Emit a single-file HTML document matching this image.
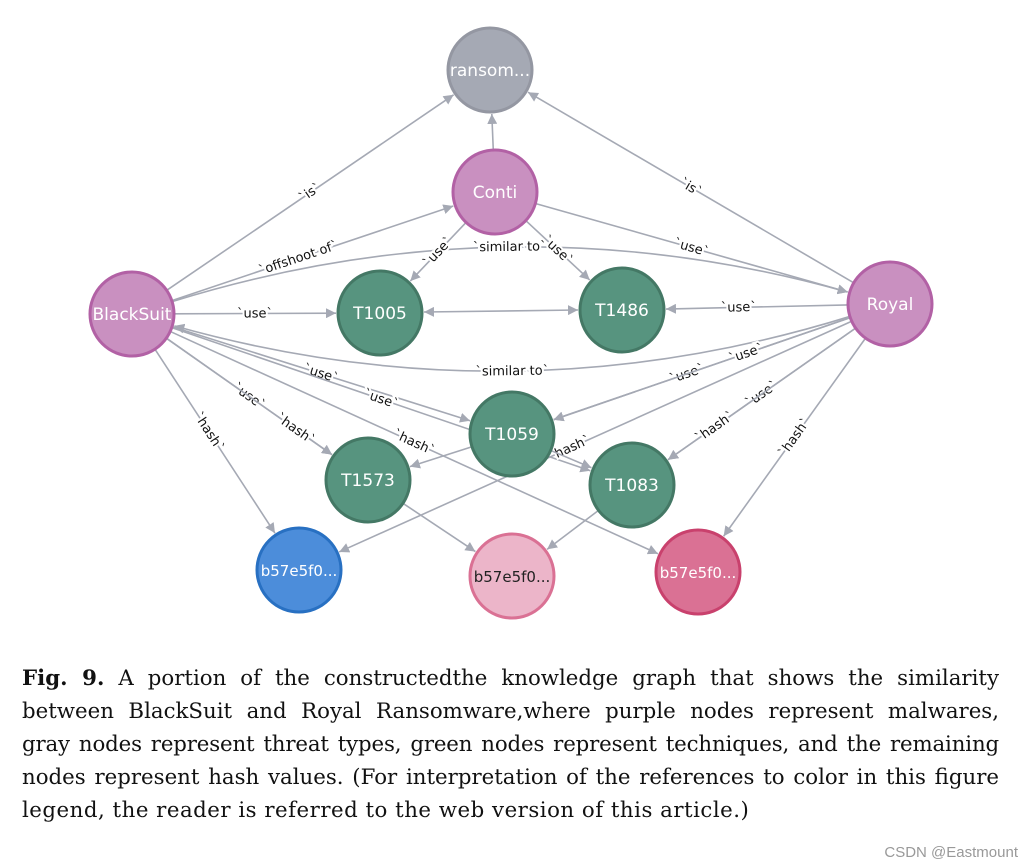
<!DOCTYPE html>
<html><head><meta charset="utf-8">
<style>
body{margin:0;background:#fff;width:1026px;height:867px;overflow:hidden;}
#g{position:absolute;left:0;top:0;}
.cap{position:absolute;left:22px;top:662px;width:977px;font-family:"DejaVu Serif","Liberation Serif",serif;font-size:21.3px;line-height:33px;color:#111;}
.cap div{text-align:justify;text-align-last:justify;white-space:nowrap;}
.cap div.t{letter-spacing:-0.15px;}
.cap div.l{text-align-last:left;letter-spacing:0.5px;}
.wm{position:absolute;right:8px;bottom:6px;font-family:"Liberation Sans",sans-serif;font-size:15px;color:#999;}
</style></head><body>
<svg id="g" width="1026" height="650" xmlns="http://www.w3.org/2000/svg">
<defs><marker id="ar" viewBox="0 0 10 10" refX="10" refY="5" markerWidth="10" markerHeight="10" orient="auto" markerUnits="userSpaceOnUse"><path d="M0,0 L10,5 L0,10 z" fill="#a5a9b4"/></marker>
<marker id="as" viewBox="0 0 10 10" refX="0" refY="5" markerWidth="10" markerHeight="10" orient="auto" markerUnits="userSpaceOnUse"><path d="M10,0 L0,5 L10,10 z" fill="#a5a9b4"/></marker></defs>
<g id="E"></g><g id="N"></g>
</svg>
<div class="cap">
<div><b>Fig. 9.</b> A portion of the constructedthe knowledge graph that shows the similarity</div>
<div>between BlackSuit and Royal Ransomware,where purple nodes represent malwares,</div>
<div class="t">gray nodes represent threat types, green nodes represent techniques, and the remaining</div>
<div>nodes represent hash values. (For interpretation of the references to color in this figure</div>
<div class="l">legend, the reader is referred to the web version of this article.)</div>
</div>
<div class="wm">CSDN @Eastmount</div>
<script>
var R=42;
var n={ransom:[490,70,"ransom...","#a5a9b4","#9497a2","#fff"],
Conti:[495,192,"Conti","#c990c0","#b261a5","#fff"],
BlackSuit:[132,314,"BlackSuit","#c990c0","#b261a5","#fff"],
Royal:[890,304,"Royal","#c990c0","#b261a5","#fff"],
T1005:[380,313,"T1005","#57947f","#447865","#fff"],
T1486:[622,310,"T1486","#57947f","#447865","#fff"],
T1059:[512,434,"T1059","#57947f","#447865","#fff"],
T1573:[368,480,"T1573","#57947f","#447865","#fff"],
T1083:[632,485,"T1083","#57947f","#447865","#fff"],
b1:[299,570,"b57e5f0...","#4c8dda","#2870c2","#fff"],
b2:[512,576,"b57e5f0...","#ecb5c9","#da7194","#222"],
b3:[698,572,"b57e5f0...","#da7194","#c9416d","#fff"]};
var e=[["BlackSuit","ransom","`is`",0,.5],["BlackSuit","Conti","`offshoot of`",0,.45],
["BlackSuit","Royal","`similar to`",-112,.5],["Royal","BlackSuit","`similar to`",-112,.5],
["BlackSuit","T1005","`use`",0,.5],["BlackSuit","T1059","`use`",0,.5],["BlackSuit","T1083","`use`",0,.5],
["BlackSuit","T1573","`use`",0,.5],["BlackSuit","T1573","`hash`",0,.78],["BlackSuit","b1","`hash`",0,.45],
["BlackSuit","b3","`hash`",0,.5],
["Conti","ransom","",0,.5],["Conti","T1005","`use`",0,.5],["Conti","T1486","`use`",0,.5],["Conti","Royal","`use`",0,.5],
["Royal","ransom","`is`",0,.5],["Royal","T1486","`use`",0,.6],["Royal","T1059","`use`",0,.55],["Royal","T1059","`use`",0,.35],
["Royal","T1083","`use`",0,.5],["Royal","T1083","`hash`",0,.75],["Royal","b1","`hash`",0,.55],["Royal","b3","`hash`",0,.5],
["T1059","T1573","",0,.5],["T1059","T1083","",0,.5],["T1573","b2","",0,.5],["T1083","b2","",0,.5]];
var ns="http://www.w3.org/2000/svg",E=document.getElementById("E"),N=document.getElementById("N");
function el(t,a,p){var x=document.createElementNS(ns,t);for(var k in a)x.setAttribute(k,a[k]);p.appendChild(x);return x;}
e.forEach(function(d){var a=n[d[0]],b=n[d[1]];var dx=b[0]-a[0],dy=b[1]-a[1],L=Math.hypot(dx,dy),ux=dx/L,uy=dy/L;
var x1=a[0]+ux*R,y1=a[1]+uy*R,x2=b[0]-ux*(R+2),y2=b[1]-uy*(R+2);
var mx,my,dd,ang=Math.atan2(dy,dx);
if(d[3]){mx=(a[0]+b[0])/2-uy*d[3];my=(a[1]+b[1])/2+ux*d[3];
 var a1=Math.atan2(my-a[1],mx-a[0]),a2=Math.atan2(my-b[1],mx-b[0]);
 x1=a[0]+Math.cos(a1)*R;y1=a[1]+Math.sin(a1)*R;x2=b[0]+Math.cos(a2)*(R+2);y2=b[1]+Math.sin(a2)*(R+2);
 dd="M"+x1+","+y1+" Q"+mx+","+my+" "+x2+","+y2;}
else dd="M"+x1+","+y1+" L"+x2+","+y2;
el("path",{d:dd,stroke:"#a5a9b4","stroke-width":1.6,fill:"none","marker-end":"url(#ar)"},E);
if(d[2]){var t=d[4],lx,ly;if(d[3]){lx=(1-t)*(1-t)*x1+2*t*(1-t)*mx+t*t*x2;ly=(1-t)*(1-t)*y1+2*t*(1-t)*my+t*t*y2;}else{lx=x1+(x2-x1)*t;ly=y1+(y2-y1)*t;}
var an=ang*180/Math.PI;if(an>90)an-=180;if(an<-90)an+=180;
var tx=el("text",{x:lx,y:ly+4,"text-anchor":"middle","font-family":"DejaVu Sans, sans-serif","font-size":13,fill:"#111",transform:"rotate("+an+" "+lx+" "+ly+")",stroke:"#fff","stroke-width":4,"paint-order":"stroke"},E);tx.textContent=d[2];}
});
el("path",{d:"M424,312 L578,310",stroke:"#a5a9b4","stroke-width":1.6,fill:"none","marker-start":"url(#as)","marker-end":"url(#ar)"},E);
for(var k in n){var v=n[k];el("circle",{cx:v[0],cy:v[1],r:R,fill:v[3],stroke:v[4],"stroke-width":3},N);
var t=el("text",{x:v[0],y:v[1]+6,"text-anchor":"middle","font-family":"DejaVu Sans, sans-serif","font-size":k[0]=="b"?15:17,fill:v[5]},N);t.textContent=v[2];}
</script>
</body></html>
